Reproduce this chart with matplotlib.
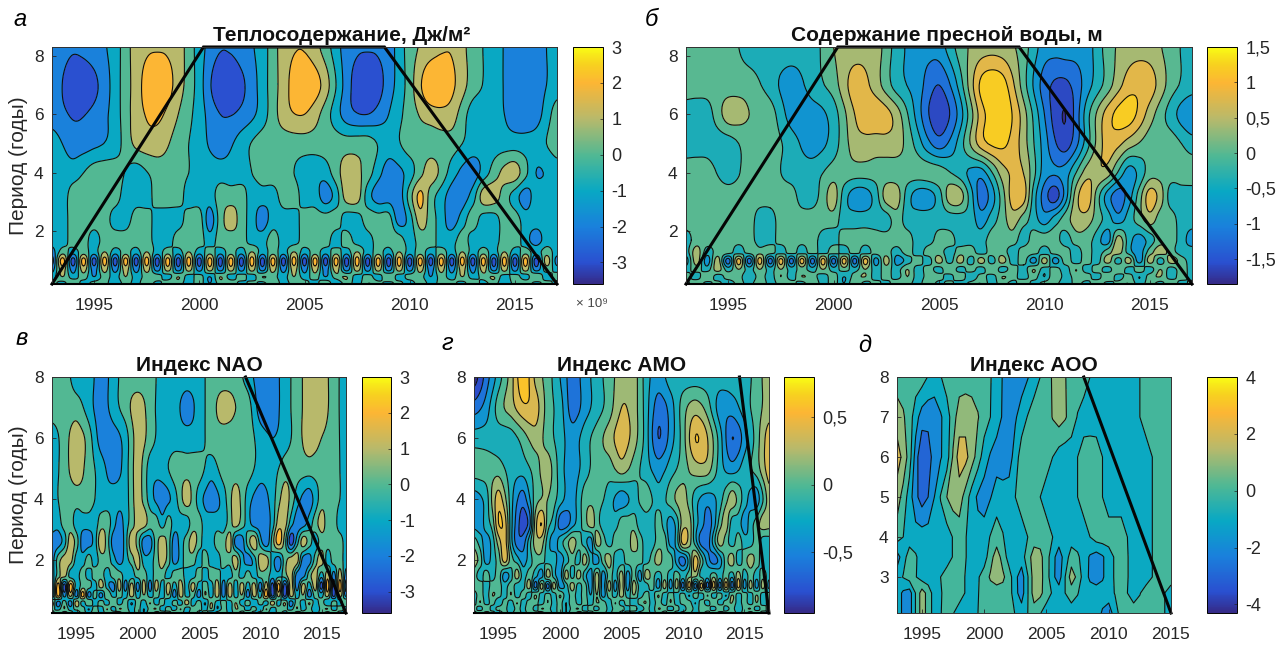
import numpy as np
import matplotlib
matplotlib.use('Agg')
import matplotlib.pyplot as plt
from matplotlib.colors import LinearSegmentedColormap, Normalize
from matplotlib.cm import ScalarMappable

plt.rcParams['font.family'] = ['Liberation Sans', 'DejaVu Sans']

W, H = 1287, 646

parula = LinearSegmentedColormap.from_list('parula', [(0, '#352a87'), (0.09, '#2a50d0'), (0.24, '#1a80dc'),
                                                      (0.39, '#08a8c4'), (0.54, '#4fb894'), (0.70, '#b9b96a'),
                                                      (0.85, '#fcb634'), (0.93, '#f7d21f'), (1, '#f9fb15')])

# нижние "пальцы" поля, снятые по картинке
fingers_a = [-1,2,-1,1,-2,1,-1,2,-1,1,1,-1,2,-1,1,-2,2,-1,1,-1,2,1,-1,2,-1,1,-2,1,2,-1,1,-1,2,-1,1,1,-2,1,-1,2,-1,1,2,-1,1,-1,2,-1,1]
fingers_b = [1,-1,2,-1,1,1,-2,1,-1,2,-1,2,1,-1,1,-2,1,2,-1,1,-1,2,-1,1,1,-1,2,-2,1,-1,2,1,-1,1,-2,2,-1,1,1,-1,2,-1,1,-2,1,2,-1,1,-1]

# значения поля: одна единица = половина шага изолиний, нечётные числа = середина полосы
heat_periods = [8.3, 7, 6, 5, 4, 3.2, 2.4, 1.7, 1.3, 1.0, 0.7, 0.45, 0.2]
heat_rows = [
    [-3,-3.8,-3,-1,3,3.8,3,-1,-3.8,-3,-1,3,3.8,1,-3,-3.8,-3,1,3,3.8,1,-1,-3,-3,-1],
    [-3,-5,-4.5,-1,3,5.8,3,-1,-5.8,-4.5,-1,3,5.8,3,-3,-5.8,-3,1,5.8,4.5,1,-1,-3,-3,-1],
    [-3,-4.2,-3.5,-1,3,4.5,2,-1,-4,-3.5,-1,3,4,1,-3,-4,-2,1,3,3,-1,-1,-3,-3,1],
    [-1,-3,-2.5,-1,2.5,3,1,-1,-3,-1,1,1,1,1,1,1,-1,1,1,1,-1,-1,-1,-1,1],
    [-1,-1,1,1,-1,1,1,-1,-1,-1,1,1,-1,-1,3,1,-3,-1,3,-1,-3,1,3,-2,-1],
    [-1,-1,1,1,1,1,1,-1,-1,-1,1,1,1,-1,-1,-1,1,1,1,-1,-1,-1,1,1,-1,-1,-3,-1,3,3,-1,-3,-3,-3,1,4.5,1,-1,-3,-3,-1,3,3,1,-1,-3,-1,-1,-1],
    [-1,-1,1,1,1,1,-1,-1,1,1,-1,-1,-1,1,1,-3,1,3,1,-1,-3,-1,-1,-1,1,1,1,1,-1,-1,1,1,1,-3,-1,3,1,-1,-3,-1,1,-1,-1,1,1,-1,-1,-1,-1],
    [-1,-1,1,1,-1,1,1,1,1,1,-1,-1,1,1,1,-1,1,1,1,-1,-1,1,-1,-1,1,1,1,-1,1,-1,-1,1,1,1,-1,1,1,-1,-1,1,-1,-1,-1,1,1,-1,-3,-1,-1],
    [-3,1,-1,1,-1,2,-1,1,-1,2,-1,1,-1,2,-1,1,-1,1,-1,2,-1,1,-1,2,-1,1,-1,1,-1,2,-1,1,-1,2,-1,1,-1,1,-1,2,-1,1,-1,2,-1,1,-1,1,-1],
    [-5,5,-5,5,-5,5,-5,5,-5,5,-5,5,-5,5,-5,5,-5,5,-5,5,-5,5,-5,5,-5,5,-5,5,-5,5,-5,5,-5,5,-5,5,-5,5,-5,5,-5,5,-5,5,-5,5,-5,3,-3],
    [-3,3,-3,3,-3,3,-3,3,-3,3,-3,3,-3,3,-3,3,-3,3,-3,3,-3,3,-3,3,-3,3,-3,3,-3,3,-3,3,-3,3,-3,3,-3,3,-3,3,-3,3,-3,3,-3,3,-3,1,-1],
    fingers_a,
    fingers_b,
]

fresh_periods = [8.3, 7, 6, 5, 4, 3.2, 2.4, 1.7, 1.3, 1.0, 0.7, 0.45, 0.2]
fresh_rows = [
    [1,1,1,-1,-1,-1,-1,2,3,3,-1,-3,-3,1,3,3,1,-3,-3,-3,1,3,3,1,-1],
    [1,1,1,1,-1,-3,-1,1,5,3,-1,-3,-6,-1,6.5,7,1,-5,-6.5,-3,1,5,5,1,-1],
    [-1,-1,3,2,1,-3,-3,-1,4,5.5,3,-3,-7.5,-3,5,7.5,3,-4,-8,-1,5,7,3,-1,-4],
    [-1,-1,-1,1,1,-1,-3,-1,3,3,3,-1,-5,-1,5,6.5,3,-3,-7,-1,5,3,1,1,-1],
    [1,1,-1,1,1,-1,-1,1,1,1,1,1,1,-1,-3,3,4,-3,-3,3,3,-3,1,1,1],
    [1,1,1,1,1,1,1,1,1,1,1,-1,-1,1,3,-1,-3,-3,-1,3,3,-1,-3,-3,-1,3,3,-1,-5,-3,1,5,5,-1,-5,-7,-3,3,5.5,1,-3,-5,-3,1,5,3,-1,-1,-1],
    [1,1,1,1,1,1,1,-1,-1,1,1,1,1,1,1,-1,-1,-1,-1,-1,1,-1,-1,-1,-1,-1,-1,-1,-3,-1,1,3,1,-1,-3,-1,1,3,3,1,-1,-3,-1,1,3,1,1,-1,-1],
    [-1,1,1,1,1,1,1,-1,-1,1,1,1,1,-1,-1,1,1,1,1,1,1,1,-1,-1,1,1,-1,-1,-1,1,1,1,-1,1,1,1,-1,1,1,-1,-3,3,-1,-3,-1,1,1,-1,-3],
    [-1,3,-1,1,1,-1,1,1,1,-1,1,-1,1,-1,1,-1,1,-1,1,1,-1,1,-1,1,1,-1,1,1,-1,1,1,-1,1,1,-1,1,1,-1,1,-1,1,3,-1,-3,1,3,1,-1,-1],
    [-3,3,-3,3,-5,5,-5,5,-5,5,-5,5,-5,5,-5,5,-5,5,-3,3,-3,-1,1,-1,3,-1,3,-1,3,-1,3,-1,1,-3,3,-3,1,-1,1,-1,3,-1,3,-3,3,-1,3,1,-1],
    [-1,1,-1,3,-1,2,-1,2,-1,2,-1,1,-1,2,-1,1,-1,2,-1,1,-1,2,-1,1,-1,2,-1,1,-1,2,-1,1,-1,2,-1,1,-1,2,-1,1,-1,2,-1,1,-1,2,-1,1,-1],
    fingers_b,
    fingers_a,
]

nao_periods = [8, 7, 6, 5, 4, 3.2, 2.6, 2.0, 1.5, 1.15, 0.85, 0.6, 0.4, 0.26]
nao_rows = [
    [1,1,-1,-1,-3,-1,1,1,1,-1,-1,-1,-1,1,1,1,-1,-3,-3,-1,1,3,3,1,-1],
    [1,1,1,-1,-3,-1,1,3,1,-1,-1,-3,-1,1,3,2,1,-3,-3,-1,1,3,3,1,-1],
    [-1,1,3,1,-3,-3,-1,3,1,-1,-1,-1,-1,1,1,1,1,-1,-2,-1,1,3,2,1,-1],
    [-1,1,3,1,-1,-3,-1,3,-1,-1,1,1,1,-1,1,1,1,-1,-1,1,1,1,1,1,-1],
    [-1,1,1,1,-1,-1,-1,3,-1,-3,-1,3,-1,-3,-1,3,-1,-3,-1,3,-1,-3,1,1,-1],
    [-1,-1,1,1,-1,-1,-1,-1,1,1,-1,-3,-1,1,3,3,1,1,-1,1,-1,-1,-1,1,1,-1,-1,-1,-1,1,3,1,-1,-3,-3,-3,-1,3,3,-1,-3,-3,-1,1,3,1,1,-1,-1],
    [-3,-3,-1,3,1,-3,-3,-1,3.5,1,-3,-3.5,-1,3.5,1,-3,-3,1,3,1,-3,-1,1,3,1,-1,-1,1,1,3,-3,-3,1,3.5,-1,-3.5,1,5,1,-5,-1,3,1,-1,1,1,1,1,-1],
    [-3,1,3,3,-1,-1,1,-1,1,1,-1,-3,-1,1,3,-1,-1,1,3,1,-3,-1,1,1,-1,1,-1,-1,1,1,3,-1,-3,-1,3,3,-1,-3,1,3,3,-3,-3,1,3,-1,1,1,-1],
    [-3,1,3,-1,-1,1,-1,1,1,-1,1,1,-1,-1,1,1,-1,1,1,-1,1,1,-1,-1,1,-1,1,1,-1,-1,1,-1,1,-1,1,1,-1,-1,1,3,-3,-3,1,3,-1,3,-3,3,-3],
    [-5,5,-5,5,-1,1,1,-1,3,-1,-3,3,-3,3,-3,3,-3,3,-1,3,-1,3,-1,3,-1,1,-1,3,-3,3,-1,3,-1,3,-3,3,-5,5,-5,3,-3,3,-1,3,-5,5,-5,5,-5],
    [-5,5,-3,3,-3,5,-3,1,-3,2,-1,1,-1,3,-1,2,-1,1,-1,2,-3,3,-1,1,-3,2,-1,3,-3,3,-1,2,-3,3,-1,5,-5,3,-5,3,-1,2,-3,1,-1,3,-5,3,-3],
    [3,-3,1,-3,3,-1,2,-1,1,-1,2,-1,1,-2,1,-1,2,-1,1,-2,1,-1,3,-1,1,-2,2,-1,1,-1,2,-1,1,-2,1,-1,3,-1,2,-3,1,-1,2,-1,1,-2,1,-1,2],
    fingers_b,
    fingers_a,
]

amo_periods = [8, 7, 6, 5, 4, 3.2, 2.6, 2.0, 1.5, 1.15, 0.85, 0.6, 0.4, 0.26]
amo_rows = [
    [-9,-5,-1,3,7.5,3.5,1,-2,-5,-3,-1,1,3,3,-1,-3,-1,-1,-1,-1,-1,-1,-1,1,3],
    [-5,-3,1,3,5.5,5,1,-1,-5,-3,-1,1,4,3,-1,-5,-3,1,3,1,-3,-3,-1,1,3],
    [-1,-1,-1,-1,1,3,1,-1,-3,-1,1,3,5,3,-1,-6,-3,1,6,4,-1,-6,-3,1,5],
    [1,1,1,-1,-1,1,3,-1,-3,-1,1,1,3,1,-1,-3,-1,1,3,3,-1,-3,-1,1,5],
    [-3,-1,5,-1,-5,1,2,-1,-3,1,1,-1,-3,-1,1,-1,1,3,-1,-3,-1,3,-1,-3,3],
    [-3,-3,-1,1,6,5,-1,-5,-7,-5,3,6,1,-1,-5,-5,-3,-1,1,3,1,-1,-1,-1,1,1,1,-1,-1,-1,1,-1,-3,-1,3,3,-1,-3,-5,-3,1,3,-1,-1,-3,-1,1,3,3],
    [1,-1,-3,-1,3,5,-1,-5,-5,-1,3,3,-1,-3,-1,1,3,1,-1,-3,3,1,-1,1,1,1,3,1,-1,-1,1,1,-3,-1,5,3,-1,-5,-5,-1,3,1,-1,1,-1,-1,1,-1,-1],
    [3,1,-3,-1,1,5,1,-1,-3,-1,1,1,-1,-1,-3,-1,1,-1,3,-1,-3,1,3,-1,-1,1,1,1,-1,1,3,1,1,-3,-5,-1,5,1,-3,-5,-3,1,3,-1,1,3,1,-1,-1],
    [1,-1,1,-1,1,-3,-1,3,-1,1,-1,-3,3,-1,-3,3,-1,3,-1,-3,3,-3,1,-1,3,-3,1,-3,3,1,-1,1,-1,1,-1,1,3,-1,-1,1,-1,1,-1,3,-1,1,-1,1,-1],
    [1,1,-1,1,1,-1,1,-1,-1,3,-5,3,-5,3,-3,-1,3,-1,1,-3,3,-3,3,-3,3,-3,3,-1,-1,1,-3,3,-3,3,-5,5,-5,5,-5,5,-5,5,-5,5,-3,3,-3,3,-3],
    [-1,1,-1,2,1,-1,2,-1,1,-1,2,-1,1,-1,2,-1,1,-1,1,-2,2,-3,1,-1,3,-1,2,-1,1,-1,2,-1,1,-1,1,-2,1,-1,2,-1,1,-2,2,-1,1,-1,2,-1,1],
    fingers_a,
    fingers_b,
    fingers_a,
]

aoo_periods = [8, 7, 6, 5, 4, 3.5, 3.0, 2.6, 2.1]
aoo_rows = [
    [1,1,1,-1,1,1,1,1,-1,-3,-3,-1,1,3,1,1,-1,-1,-1,-1,1,1,1],
    [3,1,-3,-3,-1,3,3,1,-1,-3,-1,1,1,3,1,-1,-1,-1,-1,-1,1,1,1],
    [5,1,-6,-3,-1,5,3,-1,-3,-3,1,1,1,-1,-1,1,1,-1,-1,-1,-1,1,1],
    [3,-1,-5,-2,2,3,-1,-3,-1,-1,1,1,-1,-1,-1,1,1,-1,-1,-1,-1,1,1],
    [1,-1,-1,-1,-1,1,-1,-1,1,-1,-1,1,1,-1,-1,-1,1,1,1,-1,-1,1,1],
    [-3,1,-1,-1,-1,1,-1,-1,3,-1,-1,3,1,-3,1,-1,-3,-1,1,-1,-1,1,1],
    [-1,1,-1,-1,1,1,-1,1,3,1,-3,3,1,-3,3,-1,-3,-1,1,-1,-1,1,1],
    [-1,-3,3,-1,1,1,-1,1,1,1,-3,3,1,-1,1,-1,-1,-1,1,-1,1,1,-1],
    [-1,-3,3,-1,1,-1,-1,1,1,1,-1,1,-1,-1,-1,-1,-1,-3,1,1,1,1,-1],
]

heat_coi_x = [1993, 2000.2, 2008.8, 2017]
heat_coi_y = [0.2, 8.3, 8.3, 0.2]
fresh_coi_x = [1993, 2000.2, 2008.8, 2017]
fresh_coi_y = [0.2, 8.3, 8.3, 0.2]
nao_coi_x = [2008.8, 2017]
nao_coi_y = [8, 0.26]
amo_coi_x = [2014.6, 2017]
amo_coi_y = [8, 0.26]
aoo_coi_x = [2008, 2015]
aoo_coi_y = [8, 2.1]

year_ticks = [1995, 2000, 2005, 2010, 2015]


def px_axes(fig, x0, x1, y0, y1):
    return fig.add_axes([x0 / W, 1 - y1 / H, (x1 - x0) / W, (y1 - y0) / H])


def upsample(m, n):
    # Catmull-Rom по первой оси, проходит через исходные значения
    m = np.asarray(m, dtype=float)
    if n == 1:
        return m
    pos = np.linspace(0, len(m) - 1, (len(m) - 1) * n + 1)
    i = np.minimum(pos.astype(int), len(m) - 2)
    t = (pos - i).reshape((-1,) + (1,) * (m.ndim - 1))
    p0, p1 = m[np.maximum(i - 1, 0)], m[i]
    p2, p3 = m[i + 1], m[np.minimum(i + 2, len(m) - 1)]
    return 0.5 * (2 * p1 + (p2 - p0) * t + (2 * p0 - 5 * p1 + 4 * p2 - p3) * t ** 2
                  + (3 * p1 - p0 - 3 * p2 + p3) * t ** 3)


def panel(fig, box, cbar_box, rows, periods, start, end, unit, vmin, vmax, step, coi_x, coi_y,
          yticks, cticks, clabels, title, title_x, letter, up=8, thick_bottom=True):
    ax = px_axes(fig, *box)
    ncol = int((end - start) * 2) + 1
    grid = []
    for r in rows:
        if len(r) * 2 - 1 == ncol:
            grid.append(upsample(r, 2))
        else:
            grid.append(np.interp(np.linspace(0, 1, ncol), np.linspace(0, 1, len(r)), r))
    z = np.array(grid) * unit
    z = upsample(upsample(z, up).T, up).T
    xs = np.linspace(start, end, z.shape[1])
    ys = np.interp(np.linspace(0, len(periods) - 1, z.shape[0]), np.arange(len(periods)), periods)

    # как в MATLAB: цвет полосы берётся по нижней границе
    inner = np.arange(-6, 7) * step
    levels = np.concatenate([[-100 * step], inner, [100 * step]])
    norm = Normalize(vmin, vmax)
    colors = [parula(norm(max(l, vmin))) for l in levels[:-1]]
    ax.contourf(xs, ys, z, levels=levels, colors=colors)
    ax.contour(xs, ys, z, levels=inner, colors='#101010', linewidths=0.8, linestyles='solid')

    ax.plot(coi_x, coi_y, color='#050505', lw=2.2, solid_joinstyle='miter', clip_on=False)
    ax.set_xlim(start, end)
    ax.set_ylim(min(periods), max(periods))
    ax.set_xticks(year_ticks)
    ax.set_yticks(yticks)
    ax.tick_params(direction='in', length=3, width=0.6, labelsize=12.5, colors='#262626', pad=6)
    ax.tick_params(axis='x', pad=10)
    for s in ax.spines.values():
        s.set_linewidth(0.7)
        s.set_color('#303030')
    if thick_bottom:
        ax.spines['bottom'].set_linewidth(1.5)
        ax.spines['bottom'].set_color('#000000')
    ax.set_title(title, x=title_x, fontsize=15, fontweight='bold', pad=4, color='#111111')

    cax = px_axes(fig, *cbar_box)
    cb = fig.colorbar(ScalarMappable(norm, parula), cax=cax)
    cb.set_ticks(cticks, labels=clabels)
    cb.ax.tick_params(direction='in', length=2, width=0.5, labelsize=13, colors='#262626', pad=6)
    cb.outline.set_linewidth(0.7)
    fig.text(letter[0] / W, 1 - letter[1] / H, letter[2], fontsize=17, style='italic', ha='left', va='center')
    return ax


fig = plt.figure(figsize=(W / 100, H / 100), dpi=100)

ax_a = panel(fig, (52, 557, 47, 284), (573, 603, 47, 284), heat_rows, heat_periods, 1993, 2017, 0.5, -3.6, 3, 1,
             heat_coi_x, heat_coi_y, [2, 4, 6, 8], [-3, -2, -1, 0, 1, 2, 3], ['-3', '-2', '-1', '0', '1', '2', '3'],
             'Теплосодержание, Дж/м²', 0.573, (13, 20, 'а'))
ax_a.set_ylabel('Период (годы)', fontsize=15, labelpad=4, color='#262626')
fig.text(576 / W, 1 - 304 / H, '× 10⁹', fontsize=9.5, color='#444444', ha='left', va='center')

panel(fig, (686, 1192, 47, 284), (1207, 1237, 47, 284), fresh_rows, fresh_periods, 1993, 2017, 0.2, -1.85, 1.5, 0.4,
      fresh_coi_x, fresh_coi_y, [2, 4, 6, 8], [-1.5, -1, -0.5, 0, 0.5, 1, 1.5],
      ['-1,5', '-1', '-0,5', '0', '0,5', '1', '1,5'], 'Содержание пресной воды, м', 0.515, (645, 20, 'б'))

ax_c = panel(fig, (52, 346, 377, 613), (362, 391, 377, 613), nao_rows, nao_periods, 1993, 2017, 0.5, -3.6, 3, 1,
             nao_coi_x, nao_coi_y, [2, 4, 6, 8], [-3, -2, -1, 0, 1, 2, 3], ['-3', '-2', '-1', '0', '1', '2', '3'],
             'Индекс NAO', 0.5, (16, 339, 'в'))
ax_c.set_ylabel('Период (годы)', fontsize=15, labelpad=4, color='#262626')

panel(fig, (474, 769, 377, 613), (784, 814, 377, 613), amo_rows, amo_periods, 1993, 2017, 0.1, -0.95, 0.8, 0.2,
      amo_coi_x, amo_coi_y, [2, 4, 6, 8], [-0.5, 0, 0.5], ['-0,5', '0', '0,5'], 'Индекс АМО', 0.5, (441, 344, 'г'))

panel(fig, (897, 1171, 377, 613), (1207, 1237, 377, 613), aoo_rows, aoo_periods, 1993, 2015, 0.5, -4.3, 4, 1,
      aoo_coi_x, aoo_coi_y, [3, 4, 5, 6, 7, 8], [-4, -2, 0, 2, 4], ['-4', '-2', '0', '2', '4'], 'Индекс АОО', 0.5,
      (858, 346, 'д'), up=1, thick_bottom=False)

fig.savefig('out.png', dpi=100)
